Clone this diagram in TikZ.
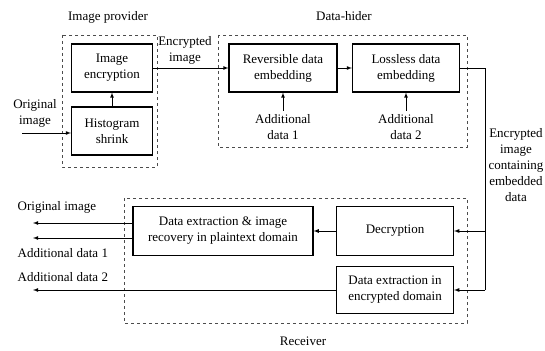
\documentclass[tikz,border=0pt]{standalone}
\usepackage{fontspec}
\setmainfont{Liberation Serif}
\usetikzlibrary{calc}

\begin{document}
\begin{tikzpicture}[x=1pt,y=-1pt,font=\fontsize{13}{16}\selectfont,
    blk/.style={draw,line width=1.1pt,align=center,minimum width=81pt,minimum height=48pt,inner sep=1pt},
    grp/.style={draw,dashed,thick,gray!60!black},
    lbl/.style={align=center},
    every path/.append style={thick}]
    \useasboundingbox (0,0) rectangle (545,350);

    % dashed groups
    \draw[grp] (62,35) rectangle (157,167);
    \draw[grp] (218,35) rectangle (467,147);
    \draw[grp] (124,198) rectangle (467,323);
    \node[lbl] (prov) at (108,17) {Image provider};
    \node[lbl] (hider) at (344,16) {Data-hider};
    \node[lbl] (recv) at (303,341) {Receiver};

    % image provider
    \node[blk] (enc) at (112,68) {Image\\encryption};
    \node[blk] (shrink) at (112,131) {Histogram\\shrink};
    \node[lbl] (orig) at (35,113) {Original\\image};
    \coordinate (src) at (22,133);
    \draw[-latex] (src) -- (src -| shrink.west);
    \draw[-latex] (shrink.north) -- (enc.south);

    % data hider
    \node[blk,minimum width=108pt] (rde) at (283,68) {Reversible data\\embedding};
    \node[blk,minimum width=107pt] (lde) at (406,68) {Lossless data\\embedding};
    \node[lbl] (add1) at (283,127) {Additional\\data 1};
    \node[lbl] (add2) at (406,127) {Additional\\data 2};
    \node[lbl] (encimg) at (185,50) {Encrypted\\image};
    \draw[-latex] (enc.east) -- (rde.west);
    \draw[-latex] (rde.east) -- (lde.west);
    \draw[-latex] (add1.north) -- (rde.south);
    \draw[-latex] (add2.north) -- (lde.south);

    % receiver
    \node[blk,minimum width=180pt,minimum height=49pt] (rec) at (223,231) {Data extraction \& image\\recovery in plaintext domain};
    \node[blk,minimum width=117pt,minimum height=49pt] (dec) at (395,231) {Decryption};
    \node[blk,minimum width=117pt,minimum height=47pt] (ext) at (395,290) {Data extraction in\\encrypted domain};
    \node[lbl,inner sep=0pt] (marked) at (516,165) {Encrypted\\image\\containing\\embedded\\data};
    \coordinate (down) at (485,290);
    \draw (lde.east) -| (down);
    \draw[-latex] (down) -- (ext.east);
    \draw[-latex] (down |- dec.east) -- (dec.east);
    \draw[-latex] (dec.west) -- (rec.east);

    % outputs
    \coordinate (out1) at (33,223);
    \coordinate (out2) at (33,238);
    \coordinate (out3) at (33,290);
    \draw[-latex] (out1 -| rec.west) -- (out1);
    \draw[-latex] (out2 -| rec.west) -- (out2);
    \draw[-latex] (ext.west) -- (out3);
    \node[anchor=west] (origout) at (14,207) {Original image};
    \node[anchor=west] (add1out) at (14,253) {Additional data 1};
    \node[anchor=west] (add2out) at (14,277) {Additional data 2};
\end{tikzpicture}
\end{document}
